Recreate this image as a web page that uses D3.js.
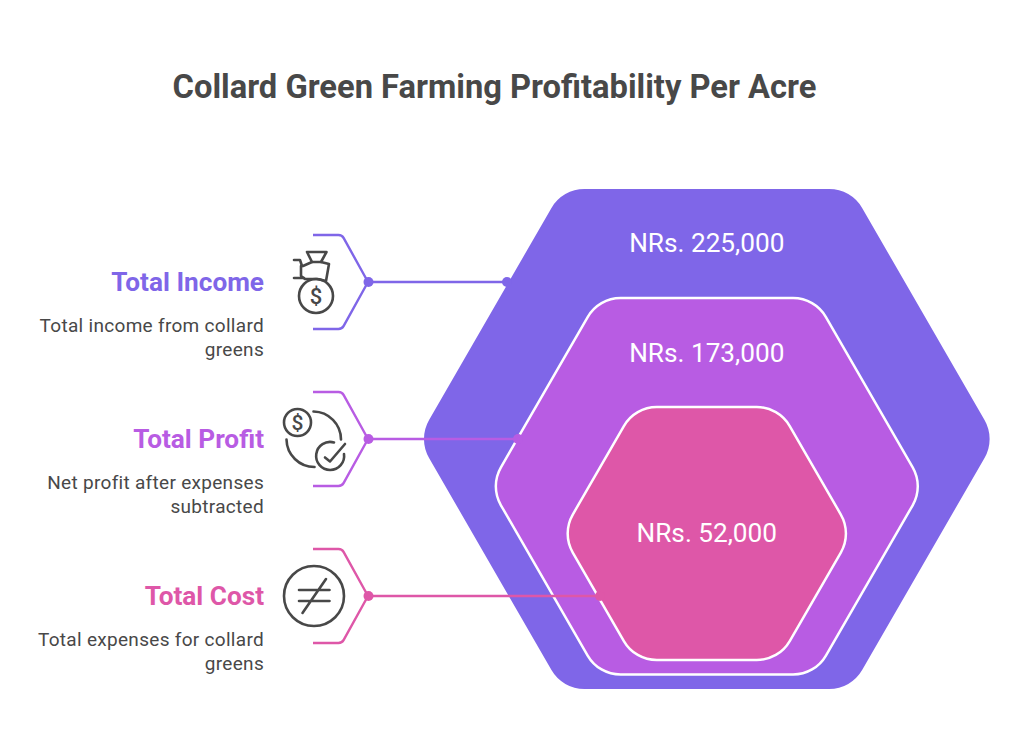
<!DOCTYPE html>
<html><head><meta charset="utf-8">
<script src="https://cdn.jsdelivr.net/npm/d3@7"></script>
<style>html,body{margin:0;background:#fff}svg{display:block}text{font-family:Roboto,sans-serif}</style>
</head><body><svg id="c" width="1024" height="753"></svg>
<script>
const title = "Collard Green Farming Profitability Per Acre";
const categories = ["Total Income","Total Profit","Total Cost"];
const amounts = [225000,173000,52000];
const descriptions = [["Total income from collard","greens"],["Net profit after expenses","subtracted"],["Total expenses for collard","greens"]];
const colors = ["#7F66E8","#B85CE3","#DE57A8"];
const ink = "#484848";

const svg = d3.select("#c");
const rowY = d3.scalePoint().domain(categories).range([282,596]);
const halfH = d3.scalePoint().domain(categories).range([250,126.5]);
const bottom = d3.scalePoint().domain(categories).range([689,660]);
const halfW = d3.scalePoint().domain(categories).range([288.7,145]);
const color = d3.scaleOrdinal().domain(categories).range(colors);
const cx = 706.8;
const radius = 38;

function hex(cat){
  const h = halfH(cat), w = halfW(cat), cy = bottom(cat)-h;
  const top = w - h/Math.tan(Math.PI/3);
  const v = [[cx-top,cy-h],[cx+top,cy-h],[cx+w,cy],[cx+top,cy+h],[cx-top,cy+h],[cx-w,cy]];
  const p = d3.path();
  const mid = [(v[0][0]+v[1][0])/2,v[0][1]];
  p.moveTo(mid[0],mid[1]);
  for(let i=1;i<=6;i++){
    const a=v[i%6], b=v[(i+1)%6];
    p.arcTo(a[0],a[1],b[0],b[1],radius);
  }
  p.closePath();
  return p.toString();
}

svg.append("text").attr("x",494.5).attr("y",98).attr("text-anchor","middle")
  .attr("font-size",32.7).attr("font-weight",700).attr("fill",ink).text(title);

svg.selectAll("path.hex").data(categories).join("path").attr("class","hex")
  .attr("d",hex).attr("fill",d=>color(d))
  .attr("stroke",(d,i)=>i?"#fff":"none").attr("stroke-width",2.5);

const labelY = d3.scaleOrdinal().domain(categories).range([252,362,542]);
svg.selectAll("text.amt").data(categories).join("text").attr("class","amt")
  .attr("x",cx).attr("y",d=>labelY(d)).attr("text-anchor","middle")
  .attr("font-size",26.2).attr("fill","#fff")
  .text((d,i)=>"NRs. "+d3.format(",")(amounts[i]));

const connectorEnd = d3.scaleOrdinal().domain(categories).range([507,518,600]);
categories.forEach((cat,i)=>{
  const y=rowY(cat), c=color(cat);
  const g=svg.append("g");
  const b=d3.path();
  b.moveTo(313,y-47); b.lineTo(337,y-47);
  b.arcTo(342,y-47,368,y,6);
  b.lineTo(368,y);
  b.moveTo(313,y+47); b.lineTo(337,y+47);
  b.arcTo(342,y+47,368,y,6);
  b.lineTo(368,y);
  b.moveTo(368,y); b.lineTo(connectorEnd(cat),y);
  g.append("path").attr("d",b.toString()).attr("fill","none").attr("stroke",c).attr("stroke-width",2.4);
  g.append("circle").attr("cx",368.5).attr("cy",y).attr("r",5).attr("fill",c);
  g.append("circle").attr("cx",connectorEnd(cat)).attr("cy",y).attr("r",5).attr("fill",c);

  svg.append("text").attr("x",264).attr("y",y+9).attr("text-anchor","end")
    .attr("font-size",26.2).attr("font-weight",700).attr("fill",c).text(cat);
  descriptions[i].forEach((t,k)=>{
    svg.append("text").attr("x",264).attr("y",y+50+k*24).attr("text-anchor","end")
      .attr("font-size",19).attr("letter-spacing",0.3).attr("fill",ink).text(t);
  });
});

const ic = svg.append("g").attr("fill","none").attr("stroke",ink).attr("stroke-width",2.6)
  .attr("stroke-linecap","round").attr("stroke-linejoin","round");
// money bag
ic.append("circle").attr("cx",316).attr("cy",296).attr("r",17);
ic.append("path").attr("d","M307 252 H326.5 L321 262 H312 Z");
ic.append("path").attr("d","M312 262 L303 266 H301 V276 L305 279 H317 L326 281 L329 264 L321 262");
ic.append("path").attr("d","M294 260 H300 L302 266 M294 278 H304");
ic.append("text").attr("x",316).attr("y",304).attr("text-anchor","middle").attr("font-size",22).attr("font-weight",500).attr("fill",ink).attr("stroke","none").text("$");
// profit
ic.append("circle").attr("cx",297.5).attr("cy",422.5).attr("r",13.5);
ic.append("text").attr("x",297.5).attr("y",430).attr("text-anchor","middle").attr("font-size",21).attr("font-weight",500).attr("fill",ink).attr("stroke","none").text("$");
ic.append("path").attr("d","M313.5 411.5 A28 28 0 0 1 341 439.5");
ic.append("path").attr("d","M286.5 439.5 A28 28 0 0 0 314.5 467");
ic.append("path").attr("d","M344 454 A14 14 0 1 1 334 442.5");
ic.append("path").attr("d","M325 457.5 L330 461.5 L345 444");
// not equal
ic.append("circle").attr("cx",314).attr("cy",596).attr("r",30);
ic.append("path").attr("d","M299 590 H329.5 M299 601 H329.5 M326 579 L302.5 613");
</script></body></html>
